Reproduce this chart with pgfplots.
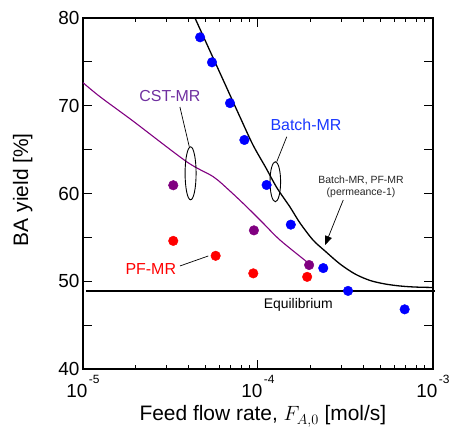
\documentclass[border=0pt]{standalone}
\usepackage{fontspec}
\setmainfont{Liberation Sans}
\usepackage{pgfplots}
\pgfplotsset{compat=1.18}
\usetikzlibrary{arrows.meta}
\definecolor{bmr}{RGB}{0,0,255}
\definecolor{cmr}{RGB}{128,0,128}
\definecolor{pmr}{RGB}{255,0,0}
\definecolor{cmrtext}{RGB}{112,48,160}
\definecolor{bmrtext}{RGB}{25,55,255}
\newcommand{\dec}[1]{10\kern1.5bp\raisebox{13.5bp}{\fontsize{12}{12}\selectfont #1}}

\begin{document}
\begin{tikzpicture}
\begin{axis}[
  scale only axis, width=350bp, height=351bp,
  xmode=log, xmin=1e-5, xmax=1e-3,
  ymin=40, ymax=80,
  xtick={1e-5,1e-4,1e-3},
  xticklabels={\dec{-5},\dec{-4},\dec{-3}},
  minor xtick={2e-5,3e-5,4e-5,5e-5,6e-5,7e-5,8e-5,9e-5,2e-4,3e-4,4e-4,5e-4,6e-4,7e-4,8e-4,9e-4},
  ytick={40,45,...,80},
  yticklabels={40,,50,,60,,70,,80},
  tick pos=both, xticklabel pos=lower, yticklabel pos=left,
  tick align=inside,
  major tick length=9.5bp, minor tick length=4.5bp,
  every tick/.style={black, line width=1bp},
  axis line style={line width=1.5bp},
  tick label style={font=\fontsize{19}{19}\selectfont},
  xticklabel style={yshift=-3bp},
  xlabel={Feed flow rate, $F_{A,0}$ [mol/s]},
  ylabel={BA yield [\%]},
  every axis x label/.style={at={(axis description cs:0.514,-0.148)}, anchor=base, font=\fontsize{21}{21}\selectfont},
  every axis y label/.style={at={(axis description cs:-0.157,0.511)}, anchor=base, rotate=90, font=\fontsize{21}{21}\selectfont},
  clip=false,
]
% model curves
\addplot[black, line width=1.3bp, smooth] coordinates {
  (4.365e-5,80) (5.316e-5,76.24) (6.478e-5,72.48) (7.891e-5,68.72)
  (9.363e-5,65.53) (1.1109e-4,62.91) (1.2842e-4,60.63) (1.5237e-4,58.46)
  (1.7378e-4,56.64) (2.0619e-4,54.70) (2.4143e-4,53.45) (2.9413e-4,51.97)
  (3.5834e-4,50.83) (4.3652e-4,50.09) (5.318e-4,49.69) (6.478e-4,49.46)
  (7.891e-4,49.34) (1e-3,49.29)};
\addplot[cmr, line width=1.1bp, smooth] coordinates {
  (1e-5,72.63) (1.2506e-5,71.03) (1.9307e-5,68.26) (3.914e-5,63.62)
  (5.554e-5,61.91) (6.918e-5,60.28) (8.604e-5,58.50) (1.068e-4,56.64)
  (1.3354e-4,54.70) (1.8977e-4,52.23)};
% equilibrium
\addplot[black, line width=1.2bp] coordinates {(1.04e-5,48.89) (1.03e-3,48.89)};
% experiments
\addplot[only marks, mark=*, mark size=4.8bp, mark options={draw=bmr, fill=bmr}] coordinates {
  (4.67e-5,77.8) (5.46e-5,74.95) (6.92e-5,70.3) (8.36e-5,66.1) (1.12e-4,60.97)
  (1.54e-4,56.45) (2.36e-4,51.5) (3.27e-4,48.9) (6.89e-4,46.8)};
\addplot[only marks, mark=*, mark size=4.8bp, mark options={draw=cmr, fill=cmr}] coordinates {
  (3.28e-5,60.94) (9.48e-5,55.8) (1.96e-4,51.85)};
\addplot[only marks, mark=*, mark size=4.8bp, mark options={draw=pmr, fill=pmr}] coordinates {
  (3.28e-5,54.6) (5.73e-5,52.9) (9.4e-5,50.9) (1.91e-4,50.5)};
% annotations
\node[text=cmrtext, font=\fontsize{16}{16}\selectfont] at (axis cs:3.14e-5,71.11) {CST-MR};
\draw[line width=0.7bp] (axis cs:3.58e-5,69.86) -- (axis cs:4.05e-5,65.33);
\draw[line width=0.9bp] (axis cs:4.12e-5,62.30) ellipse [x radius=5.5bp, y radius=26.5bp];
\node[text=bmrtext, font=\fontsize{16}{16}\selectfont] at (axis cs:1.88e-4,67.81) {Batch-MR};
\draw[line width=0.7bp] (axis cs:1.46e-4,66.47) -- (axis cs:1.28e-4,63.62);
\draw[line width=0.9bp] (axis cs:1.256e-4,61.34) ellipse [x radius=5.3bp, y radius=20bp];
\node[text=pmr, font=\fontsize{16}{16}\selectfont] at (axis cs:2.44e-5,51.36) {PF-MR};
\draw[line width=0.7bp] (axis cs:3.58e-5,51.74) -- (axis cs:5.2e-5,52.88);
\node[text=black!85, font=\fontsize{10.5}{10.5}\selectfont] at (axis cs:3.88e-4,61.54) {Batch-MR, PF-MR};
\node[text=black!85, font=\fontsize{10.5}{10.5}\selectfont] at (axis cs:3.88e-4,60.09) {(permeance-1)};
\draw[line width=0.7bp, -{Triangle[length=9bp, width=7bp]}] (axis cs:3.07e-4,59.26) -- (axis cs:2.42e-4,54.13);
\node[font=\fontsize{14}{14}\selectfont] at (axis cs:1.70e-4,47.29) {Equilibrium};
\coordinate (sw) at (rel axis cs:0,0);
\coordinate (ne) at (rel axis cs:1,1);
\end{axis}
\pgfresetboundingbox
\useasboundingbox ([shift={(-83bp,-58bp)}]sw) rectangle ([shift={(22bp,18bp)}]ne);
\end{tikzpicture}
\end{document}
